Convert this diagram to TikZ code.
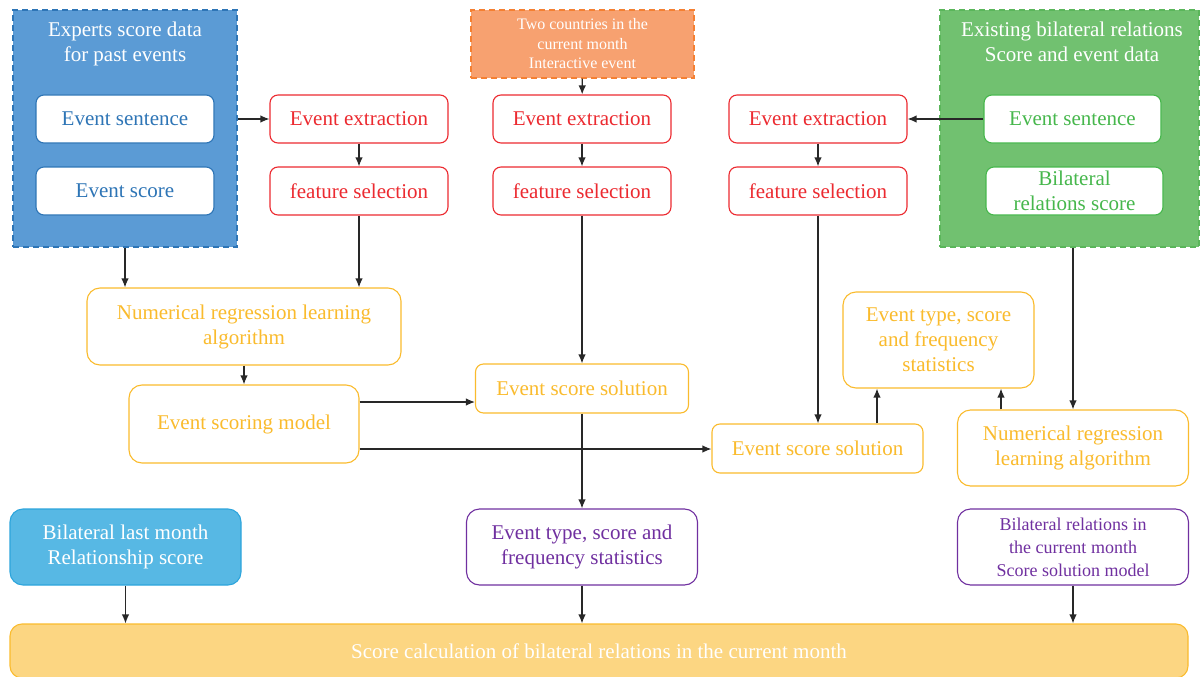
\documentclass[tikz,border=0pt]{standalone}
\usepackage{fontspec}
\setmainfont{Liberation Serif}
\usetikzlibrary{arrows.meta}

\definecolor{boxblue}{RGB}{91,155,213}
\definecolor{txtblue}{RGB}{46,117,182}
\definecolor{boxred}{RGB}{236,42,48}
\definecolor{boxorange}{RGB}{247,161,112}
\definecolor{lineorange}{RGB}{245,128,50}
\definecolor{boxgreen}{RGB}{113,193,112}
\definecolor{linegreen}{RGB}{90,182,90}
\definecolor{txtgreen}{RGB}{70,183,76}
\definecolor{boxyellow}{RGB}{250,187,45}
\definecolor{boxpurple}{RGB}{112,48,160}
\definecolor{boxcyan}{RGB}{87,184,228}
\definecolor{linecyan}{RGB}{45,165,220}
\definecolor{calcfill}{RGB}{252,214,130}
\definecolor{arrgray}{RGB}{40,40,40}

\tikzset{
  base/.style={draw, rounded corners=8pt, line width=1.1pt, align=center,
    font=\fontsize{21}{25}\selectfont, inner sep=2pt},
  whitebox/.style={base, fill=white},
  redbox/.style={whitebox, draw=boxred, text=boxred, minimum width=178pt, minimum height=48pt},
  yelbox/.style={whitebox, draw=boxyellow, text=boxyellow, rounded corners=13pt},
  purplebox/.style={whitebox, draw=boxpurple, text=boxpurple, rounded corners=13pt,
    minimum width=231pt, minimum height=76pt},
  group/.style={draw, dash pattern=on 6pt off 4pt, line width=1.2pt, inner sep=0pt},
  grouptitle/.style={align=center, text=white, font=\fontsize{21}{25}\selectfont},
  arr/.style={-{Latex[length=9pt,width=7.5pt]}, line width=1.3pt, draw=arrgray}
}

\begin{document}
\begin{tikzpicture}[x=1pt,y=-1pt]
\useasboundingbox (0,0) rectangle (1200,677);

% Experts data (left group)
\node[group, draw=txtblue, fill=boxblue, minimum width=224pt, minimum height=237pt] (experts) at (125,128.5) {};
\node[grouptitle] (exptitle) at (125,44) {Experts score data\\for past events};
\node[whitebox, draw=txtblue, text=txtblue, minimum width=178pt, minimum height=48pt] (sent1) at (125,119) {Event sentence};
\node[whitebox, draw=txtblue, text=txtblue, minimum width=178pt, minimum height=48pt] (score1) at (125,191) {Event score};

% Current month events (top)
\node[group, draw=lineorange, fill=boxorange, minimum width=223pt, minimum height=68pt,
  align=center, text=white, font=\fontsize{16}{19.5}\selectfont] (twoc) at (582.5,44)
  {Two countries in the\\current month\\Interactive event};

% Existing relations (right group)
\node[group, draw=linegreen, fill=boxgreen, minimum width=259pt, minimum height=237pt] (exist) at (1069.5,128.5) {};
\node[grouptitle] (extitle) at (1072,42) {Existing bilateral relations\\Score and event data};
\node[whitebox, draw=txtgreen, text=txtgreen, minimum width=177pt, minimum height=48pt] (sent3) at (1072.5,119) {Event sentence};
\node[whitebox, draw=txtgreen, text=txtgreen, minimum width=177pt, minimum height=48pt] (brs) at (1074.5,191) {Bilateral\\relations score};

% Extraction and selection
\node[redbox] (ee1) at (359,119) {Event extraction};
\node[redbox] (ee2) at (582,119) {Event extraction};
\node[redbox] (ee3) at (818,119) {Event extraction};
\node[redbox] (fs1) at (359,191) {feature selection};
\node[redbox] (fs2) at (582,191) {feature selection};
\node[redbox] (fs3) at (818,191) {feature selection};

% Models and solutions
\node[yelbox, minimum width=314pt, minimum height=77pt] (nrla1) at (244,326.5) {Numerical regression learning\\algorithm};
\node[yelbox, minimum width=230pt, minimum height=78pt] (esm) at (244,424) {Event scoring model};
\node[yelbox, rounded corners=8pt, minimum width=213pt, minimum height=49pt] (ess2) at (582,388.5) {Event score solution};
\node[yelbox, rounded corners=8pt, minimum width=211pt, minimum height=49pt] (ess3) at (817.5,448.5) {Event score solution};
\node[yelbox, minimum width=191pt, minimum height=96pt] (ets3) at (938.5,340) {Event type, score\\and frequency\\statistics};
\node[yelbox, minimum width=231pt, minimum height=76pt] (nrla2) at (1073,448) {Numerical regression\\learning algorithm};

% Bottom row
\node[base, draw=linecyan, fill=boxcyan, text=white, rounded corners=13pt,
  minimum width=231pt, minimum height=76pt] (blm) at (125.5,547) {Bilateral last month\\Relationship score};
\node[purplebox] (ets2) at (582,547) {Event type, score and\\frequency statistics};
\node[purplebox, font=\fontsize{18}{23}\selectfont] (brc) at (1073,547) {Bilateral relations in\\the current month\\Score solution model};
\node[base, draw=boxyellow, fill=calcfill, text=white, rounded corners=12pt,
  minimum width=1178pt, minimum height=54pt] (calc) at (599,651) {Score calculation of bilateral relations in the current month};

% Connectors
\draw[arr] (experts.east |- ee1) -- (ee1.west);
\draw[arr] (sent3.west) -- (ee3.east);
\draw[arr] (twoc) -- (ee2);
\draw[arr] (ee1) -- (fs1);
\draw[arr] (ee2) -- (fs2);
\draw[arr] (ee3) -- (fs3);
\draw[arr] (experts.south) -- (experts.south |- nrla1.north);
\draw[arr] (fs1.south) -- (fs1.south |- nrla1.north);
\draw[arr] (nrla1) -- (esm);
\coordinate (m1) at ([yshift=22pt]esm.east);
\coordinate (m2) at ([yshift=-25pt]esm.east);
\draw[arr] (m1) -- (m1 -| ess2.west);
\draw[arr] (m2) -- (m2 -| ess3.west);
\draw[arr] (fs2) -- (ess2);
\draw[arr] (ess2) -- (ets2);
\draw[arr] (fs3.south) -- (fs3.south |- ess3.north);
\coordinate (m3) at ([xshift=59.5pt]ess3.north);
\draw[arr] (m3) -- (m3 |- ets3.south);
\draw[arr] (nrla2.north |- exist.south) -- (nrla2.north);
\coordinate (m4) at ([xshift=-72pt]nrla2.north);
\draw[arr] (m4) -- (m4 |- ets3.south);
\draw[arr] (blm.south) -- (blm.south |- calc.north);
\draw[arr] (ets2.south) -- (ets2.south |- calc.north);
\draw[arr] (brc.south) -- (brc.south |- calc.north);

\end{tikzpicture}
\end{document}
